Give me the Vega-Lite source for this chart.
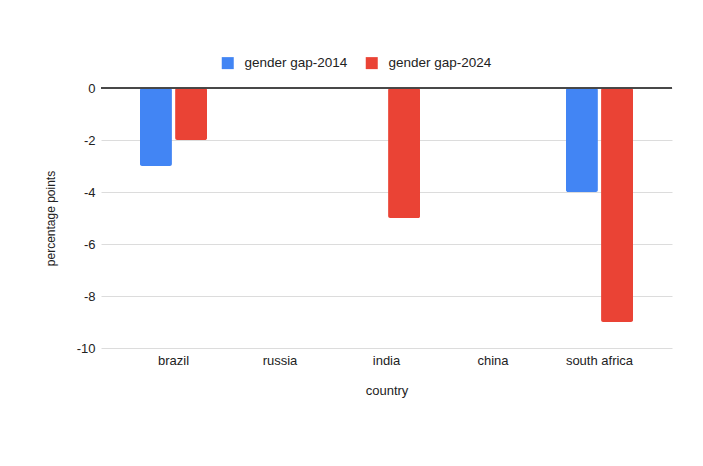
{
  "$schema": "https://vega.github.io/schema/vega-lite/v6.json",
  "autosize": "none",
  "width": 571,
  "height": 260,
  "padding": {"left": 101, "top": 88, "right": 31, "bottom": 118},
  "background": "white",
  "config": {
    "font": "Liberation Sans",
    "view": {"stroke": null},
    "axis": {"labelFont": "Liberation Sans", "titleFont": "Liberation Sans", "labelColor": "#222222", "titleColor": "#222222", "titleFontWeight": "normal"}
  },
  "data": {
    "values": [
      {"country": "brazil", "series": "gender gap-2014", "value": -3},
      {"country": "brazil", "series": "gender gap-2024", "value": -2},
      {"country": "india", "series": "gender gap-2024", "value": -5},
      {"country": "south africa", "series": "gender gap-2014", "value": -4},
      {"country": "south africa", "series": "gender gap-2024", "value": -9}
    ]
  },
  "layer": [
    {
      "mark": {"type": "bar", "cornerRadius": 2},
      "encoding": {
        "x": {
          "field": "country",
          "type": "nominal",
          "sort": null,
          "scale": {"domain": ["brazil", "russia", "india", "china", "south africa"], "paddingInner": 0.37, "paddingOuter": 0.366},
          "axis": {"title": "country", "labelAngle": 0, "labelFontSize": 13, "titleFontSize": 13, "ticks": false, "domain": false, "labelPadding": 6, "titlePadding": 17}
        },
        "xOffset": {
          "field": "series",
          "type": "nominal",
          "scale": {"domain": ["gender gap-2014", "gender gap-2024"], "paddingInner": 0.09, "paddingOuter": 0}
        },
        "y": {
          "field": "value",
          "type": "quantitative",
          "scale": {"domain": [-10, 0], "nice": false},
          "axis": {"title": "percentage points", "values": [0, -2, -4, -6, -8, -10], "labelExpr": "'' + datum.value", "labelFontSize": 13, "titleFontSize": 12, "ticks": false, "domain": false, "labelPadding": 6, "titlePadding": 19, "gridColor": "#dcdcdc", "gridWidth": 1}
        },
        "color": {
          "field": "series",
          "type": "nominal",
          "scale": {"domain": ["gender gap-2014", "gender gap-2024"], "range": ["#4285F4", "#EA4335"]},
          "legend": {
            "title": null,
            "orient": "none",
            "direction": "horizontal",
            "legendX": 120,
            "legendY": -32,
            "symbolType": "square",
            "symbolSize": 144,
            "symbolStrokeWidth": 0,
            "symbolOpacity": 1,
            "labelFontSize": 13.5,
            "labelFont": "Liberation Sans",
            "labelColor": "#222222",
            "labelOffset": 10,
            "columnPadding": 17
          }
        }
      }
    },
    {
      "mark": {"type": "rule", "color": "#444444", "strokeWidth": 1},
      "encoding": {"y": {"datum": 0}}
    }
  ]
}
